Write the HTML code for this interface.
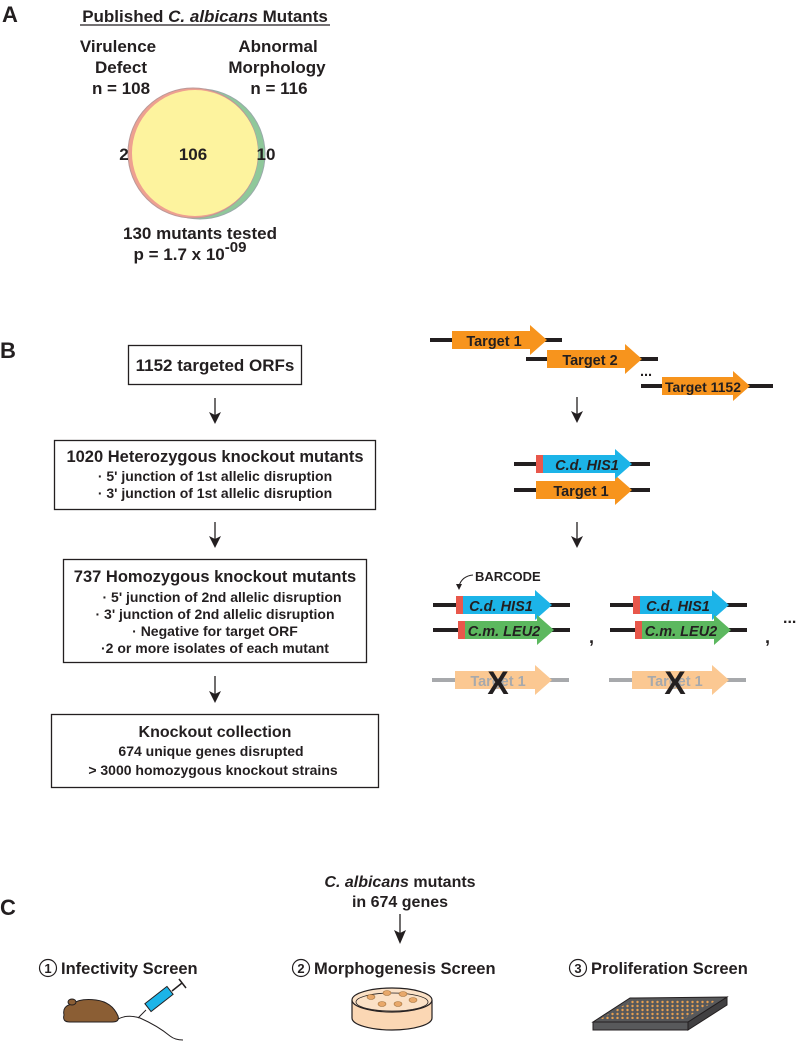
<!DOCTYPE html>
<html><head><meta charset="utf-8"><style>
html,body{margin:0;padding:0;background:#fff}
svg{display:block}
text{font-family:"Liberation Sans",Arial,sans-serif;font-weight:bold;fill:#231f20}
</style></head><body>
<svg width="800" height="1043" viewBox="0 0 800 1043" xmlns="http://www.w3.org/2000/svg">
<defs>
<pattern id="dots" width="5" height="4" patternUnits="userSpaceOnUse">
<circle cx="2.5" cy="2" r="1.2" fill="#e8a050"/></pattern>
</defs>
<!-- A -->
<text x="2" y="22" font-size="22">A</text>
<text x="205" y="22" font-size="17" text-anchor="middle">Published <tspan font-style="italic">C. albicans</tspan> Mutants</text>
<line x1="80" y1="25" x2="330" y2="25" stroke="#231f20" stroke-width="1.2"/>
<g font-size="17" text-anchor="middle">
<text x="118" y="52">Virulence</text><text x="121" y="73">Defect</text><text x="121" y="94">n = 108</text>
<text x="278" y="52">Abnormal</text><text x="277" y="73">Morphology</text><text x="279" y="94">n = 116</text>
</g>
<circle cx="200" cy="154" r="65" fill="#8fc89a" stroke="#9aa" stroke-width="1"/>
<circle cx="193" cy="153" r="65" fill="#eea090" stroke="#b99" stroke-width="1"/>
<circle cx="195" cy="153" r="63" fill="#fdf39e"/>
<g font-size="17" text-anchor="middle">
<text x="124" y="160">2</text><text x="193" y="160">106</text><text x="266" y="160">10</text>
<text x="200" y="239">130 mutants tested</text>
<text x="190" y="260">p = 1.7 x 10<tspan font-size="15" dy="-8">-09</tspan></text>
</g>
<!-- B -->
<text x="0" y="358" font-size="22">B</text>
<g fill="none" stroke="#231f20" stroke-width="1.3">
<rect x="128.5" y="345.5" width="173" height="39"/>
<rect x="54.5" y="440.5" width="321" height="69"/>
<rect x="63.5" y="559.5" width="303" height="103"/>
<rect x="51.5" y="714.5" width="327" height="73"/>
</g>
<g stroke="#231f20" stroke-width="1.3">
<line x1="215" y1="398" x2="215" y2="415"/>
<line x1="215" y1="522" x2="215" y2="539"/>
<line x1="215" y1="676" x2="215" y2="694"/>
<line x1="577" y1="397" x2="577" y2="414"/>
<line x1="577" y1="522" x2="577" y2="539"/>
<line x1="400" y1="914" x2="400" y2="933"/>
</g>
<g fill="#231f20">
<path d="M209,412 L215,424 L221,412 L215,415 Z"/>
<path d="M209,536 L215,548 L221,536 L215,539 Z"/>
<path d="M209,691 L215,703 L221,691 L215,694 Z"/>
<path d="M571,411 L577,423 L583,411 L577,414 Z"/>
<path d="M571,536 L577,548 L583,536 L577,539 Z"/>
<path d="M394,930 L400,944 L406,930 L400,933 Z"/>
</g>
<g text-anchor="middle">
<text x="215" y="371" font-size="17">1152 targeted ORFs</text>
<text x="215" y="462" font-size="16.5">1020 Heterozygous knockout mutants</text>
<text x="215" y="481" font-size="14">· 5' junction of 1st allelic disruption</text>
<text x="215" y="498" font-size="14">· 3' junction of 1st  allelic disruption</text>
<text x="215" y="582" font-size="16.5">737 Homozygous knockout mutants</text>
<text x="222" y="602" font-size="14">· 5' junction of 2nd allelic disruption</text>
<text x="215" y="619" font-size="14">· 3' junction of 2nd allelic disruption</text>
<text x="215" y="636" font-size="14">· Negative for target ORF</text>
<text x="215" y="653" font-size="14">·2 or more isolates of each mutant</text>
<text x="215" y="737" font-size="16">Knockout collection</text>
<text x="211" y="756" font-size="14">674 unique genes disrupted</text>
<text x="213" y="775" font-size="14">&gt; 3000 homozygous knockout strains</text>
</g>
<!-- gene arrows -->
<g stroke="#231f20" stroke-width="4">
<line x1="430" y1="340" x2="562" y2="340"/>
<line x1="526" y1="359" x2="658" y2="359"/>
<line x1="641" y1="386" x2="773" y2="386"/>
<line x1="514" y1="464" x2="650" y2="464"/>
<line x1="514" y1="490" x2="650" y2="490"/>
<line x1="433" y1="605" x2="570" y2="605"/>
<line x1="433" y1="630" x2="570" y2="630"/>
<line x1="610" y1="605" x2="747" y2="605"/>
<line x1="610" y1="630" x2="747" y2="630"/>
</g>
<g stroke="#a7a9ac" stroke-width="4">
<line x1="432" y1="680" x2="569" y2="680"/>
<line x1="609" y1="680" x2="746" y2="680"/>
</g>
<g fill="#f7941d">
<path d="M452,331 H530 V325 L547,340 L530,355 V349 H452 Z"/>
<path d="M547,350 H625 V344 L642,359 L625,374 V368 H547 Z"/>
<path d="M662,377 H733 V371 L750,386 L733,401 V395 H662 Z"/>
<path d="M536,481 H615 V475 L632,490 L615,505 V499 H536 Z"/>
</g>
<g font-size="14.5" text-anchor="middle">
<text x="494" y="346">Target 1</text>
<text x="590" y="365">Target 2</text>
<text x="703" y="392" font-size="14">Target 1152</text>
<text x="581" y="496">Target 1</text>
<text x="646" y="376">...</text>
</g>
<!-- HIS1 -->
<path d="M543,455 H615 V449 L632,464 L615,479 V473 H543 Z" fill="#1cb4e8"/>
<rect x="536" y="455" width="7" height="18" fill="#e8574b"/>
<text x="587" y="470" font-size="14.5" font-style="italic" text-anchor="middle">C.d. HIS1</text>
<!-- bottom groups -->
<g id="grp">
<path d="M463,596 H535 V590 L552,605 L535,620 V614 H463 Z" fill="#1cb4e8"/>
<rect x="456" y="596" width="7" height="18" fill="#e8574b"/>
<text x="501" y="611" font-size="14.5" font-style="italic" text-anchor="middle">C.d. HIS1</text>
<path d="M465,621 H537 V615 L554,630 L537,645 V639 H465 Z" fill="#5cb85f"/>
<rect x="458" y="621" width="7" height="18" fill="#e8574b"/>
<text x="504" y="636" font-size="14.5" font-style="italic" text-anchor="middle">C.m. LEU2</text>
<path d="M455,671 H535 V665 L552,680 L535,695 V689 H455 Z" fill="#fbc892"/>
<text x="498" y="686" font-size="14.5" text-anchor="middle" style="fill:#a7a9ac">Target 1</text>
<text x="498" y="694" font-size="32" text-anchor="middle">X</text>
</g>
<use href="#grp" x="177"/>
<text x="475" y="581" font-size="13">BARCODE</text>
<path d="M473,575 Q462,576 459,586" fill="none" stroke="#231f20" stroke-width="1"/>
<path d="M456,584 L459,590 L462,584 Z" fill="#231f20"/>
<text x="589" y="643" font-size="18">,</text>
<text x="765" y="643" font-size="18">,</text>
<text x="783" y="623" font-size="16">...</text>
<!-- C -->
<text x="0" y="915" font-size="22">C</text>
<g text-anchor="middle" font-size="16">
<text x="400" y="887"><tspan font-style="italic">C. albicans</tspan> mutants</text>
<text x="400" y="907">in 674 genes</text>
</g>
<g font-size="16.5">
<circle cx="48" cy="968" r="8.5" fill="none" stroke="#231f20" stroke-width="1.2"/>
<text x="48" y="973" font-size="13" text-anchor="middle">1</text>
<text x="61" y="974">Infectivity Screen</text>
<circle cx="301" cy="968" r="8.5" fill="none" stroke="#231f20" stroke-width="1.2"/>
<text x="301" y="973" font-size="13" text-anchor="middle">2</text>
<text x="314" y="974">Morphogenesis Screen</text>
<circle cx="578" cy="968" r="8.5" fill="none" stroke="#231f20" stroke-width="1.2"/>
<text x="578" y="973" font-size="13" text-anchor="middle">3</text>
<text x="591" y="974">Proliferation Screen</text>
</g>
<!-- mouse -->
<path d="M64,1015 Q62,1006 72,1004 Q80,998 96,1000 Q112,1002 118,1016 Q120,1022 112,1022 H70 Q62,1022 64,1015 Z" fill="#8b5e34" stroke="#231f20" stroke-width="1"/>
<ellipse cx="72" cy="1002" rx="4" ry="3" fill="#8b5e34" stroke="#231f20" stroke-width="1"/>
<path d="M118,1019 Q128,1014 140,1018 Q158,1026 170,1036 Q175,1040 183,1040" fill="none" stroke="#231f20" stroke-width="1"/>
<path d="M138,1018 L146,1010" stroke="#231f20" stroke-width="1"/>
<rect x="145" y="994" width="28" height="10" fill="#1cb4e8" stroke="#231f20" stroke-width="1" transform="rotate(-38 159 999)"/>
<path d="M172,991 L182,983 M179,979 L186,988" stroke="#231f20" stroke-width="1.5"/>
<!-- dish -->
<path d="M352,1000 V1018 A40,12 0 0 0 432,1018 V1000" fill="#fbd7b4" stroke="#231f20" stroke-width="1.2"/>
<ellipse cx="392" cy="1000" rx="40" ry="12" fill="#fbe1c6" stroke="#231f20" stroke-width="1.2"/>
<ellipse cx="392" cy="1002" rx="36" ry="9" fill="none" stroke="#231f20" stroke-width="0.8"/>
<g fill="#e8a86a" stroke="#a0703a" stroke-width="0.6">
<ellipse cx="371" cy="997" rx="4" ry="2.5"/><ellipse cx="387" cy="993" rx="4" ry="2.5"/><ellipse cx="403" cy="994" rx="4" ry="2.5"/>
<ellipse cx="382" cy="1004" rx="4" ry="2.5"/><ellipse cx="398" cy="1004" rx="4" ry="2.5"/><ellipse cx="413" cy="1000" rx="4" ry="2.5"/>
</g>
<!-- plate -->
<path d="M593,1022 L688,1022 L688,1030 L593,1030 Z" fill="#58595b" stroke="#231f20" stroke-width="1"/>
<path d="M688,1022 L727,997 L727,1005 L688,1030 Z" fill="#414042" stroke="#231f20" stroke-width="1"/>
<path d="M593,1022 L630,998 L727,997 L688,1022 Z" fill="#58595b" stroke="#231f20" stroke-width="1"/>
<path d="M600,1019 L633,1000 L718,999.5 L684,1019 Z" fill="url(#dots)"/>
</svg>
</body></html>
